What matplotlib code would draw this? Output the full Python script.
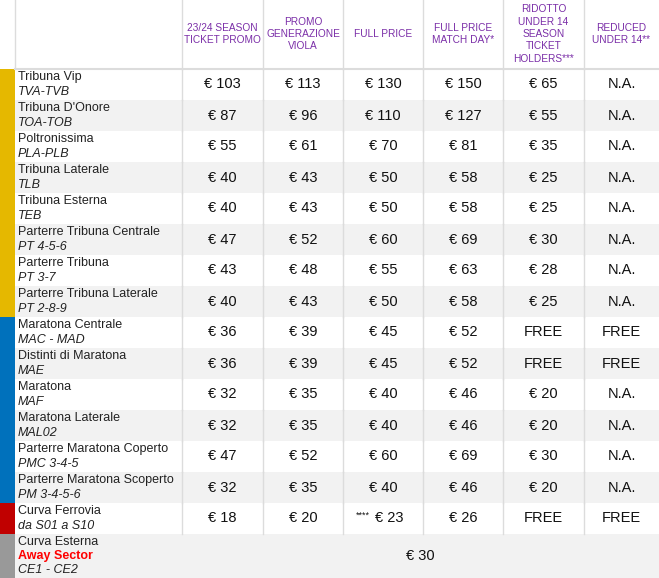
import matplotlib
matplotlib.use("Agg")
import matplotlib.pyplot as plt
from matplotlib.patches import Rectangle

plt.rcParams["font.family"] = "Liberation Sans"

headers = ["23/24 SEASON\nTICKET PROMO", "PROMO\nGENERAZIONE\nVIOLA", "FULL PRICE",
           "FULL PRICE\nMATCH DAY*", "RIDOTTO\nUNDER 14\nSEASON\nTICKET\nHOLDERS***", "REDUCED\nUNDER 14**"]
names = ["Tribuna Vip", "Tribuna D'Onore", "Poltronissima", "Tribuna Laterale", "Tribuna Esterna",
         "Parterre Tribuna Centrale", "Parterre Tribuna", "Parterre Tribuna Laterale",
         "Maratona Centrale", "Distinti di Maratona", "Maratona", "Maratona Laterale",
         "Parterre Maratona Coperto", "Parterre Maratona Scoperto", "Curva Ferrovia"]
codes = ["TVA-TVB", "TOA-TOB", "PLA-PLB", "TLB", "TEB", "PT 4-5-6", "PT 3-7", "PT 2-8-9",
         "MAC - MAD", "MAE", "MAF", "MAL02", "PMC 3-4-5", "PM 3-4-5-6", "da S01 a S10"]
values = [
    ["€ 103", "€ 113", "€ 130", "€ 150", "€ 65", "N.A."],
    ["€ 87", "€ 96", "€ 110", "€ 127", "€ 55", "N.A."],
    ["€ 55", "€ 61", "€ 70", "€ 81", "€ 35", "N.A."],
    ["€ 40", "€ 43", "€ 50", "€ 58", "€ 25", "N.A."],
    ["€ 40", "€ 43", "€ 50", "€ 58", "€ 25", "N.A."],
    ["€ 47", "€ 52", "€ 60", "€ 69", "€ 30", "N.A."],
    ["€ 43", "€ 48", "€ 55", "€ 63", "€ 28", "N.A."],
    ["€ 40", "€ 43", "€ 50", "€ 58", "€ 25", "N.A."],
    ["€ 36", "€ 39", "€ 45", "€ 52", "FREE", "FREE"],
    ["€ 36", "€ 39", "€ 45", "€ 52", "FREE", "FREE"],
    ["€ 32", "€ 35", "€ 40", "€ 46", "€ 20", "N.A."],
    ["€ 32", "€ 35", "€ 40", "€ 46", "€ 20", "N.A."],
    ["€ 47", "€ 52", "€ 60", "€ 69", "€ 30", "N.A."],
    ["€ 32", "€ 35", "€ 40", "€ 46", "€ 20", "N.A."],
    ["€ 18", "€ 20", "****€ 23", "€ 26", "FREE", "FREE"],
]
stripe = ["#e5b800"] * 8 + ["#0071bc"] * 6 + ["#c00000"]
last_name = ["Curva Esterna", "Away Sector", "CE1 - CE2"]
last_value = "€ 30"

W, H = 659, 578
fig = plt.figure(figsize=(W / 100, H / 100), dpi=100)
ax = fig.add_axes([0, 0, 1, 1])
ax.set_xlim(0, W)
ax.set_ylim(H, 0)
ax.axis("off")

cols = [182, 263, 343, 423, 503, 584, 659]
head_h = 69
rh = 31
grid = "#dcdcdc"
purple = "#7b2fa8"

for i, h in enumerate(headers):
    cx = (cols[i] + cols[i + 1]) / 2
    ax.text(cx, 34, h, ha="center", va="center", fontsize=7.3, color=purple, linespacing=1.3)
ax.plot([15, W], [head_h, head_h], color=grid, lw=1.5)
for x in [15] + cols[:-1]:
    ax.plot([x, x], [0, head_h], color=grid, lw=1)

for r in range(len(names)):
    y0 = head_h + r * rh
    bg = "#ffffff" if r % 2 == 0 else "#f2f2f2"
    ax.add_patch(Rectangle((15, y0), W - 15, rh, color=bg, lw=0))
    ax.add_patch(Rectangle((0, y0), 15, rh, color=stripe[r], lw=0))
    ax.text(18, y0 + 8, names[r], ha="left", va="center", fontsize=9, color="#222222")
    ax.text(18, y0 + 23, codes[r], ha="left", va="center", fontsize=9, color="#222222", style="italic")
    for c in range(6):
        cx = (cols[c] + cols[c + 1]) / 2
        v = values[r][c]
        if v.startswith("****"):
            ax.text(cx + 6, y0 + rh / 2, v[4:], ha="center", va="center", fontsize=10.5, color="#111111")
            ax.text(cx - 13, y0 + rh / 2 - 3, v[:4], ha="right", va="center", fontsize=6.5, color="#111111")
        else:
            ax.text(cx, y0 + rh / 2, v, ha="center", va="center", fontsize=10.5, color="#111111")
    for x in cols[:-1]:
        ax.plot([x, x], [y0, y0 + rh], color=grid, lw=1)

y0 = head_h + len(names) * rh
ax.add_patch(Rectangle((15, y0), W - 15, H - y0, color="#f2f2f2", lw=0))
ax.add_patch(Rectangle((0, y0), 15, H - y0, color="#999999", lw=0))
ax.text(18, y0 + 8, last_name[0], ha="left", va="center", fontsize=9, color="#222222")
ax.text(18, y0 + 22, last_name[1], ha="left", va="center", fontsize=9, color="#ff0000", fontweight="bold")
ax.text(18, y0 + 36, last_name[2], ha="left", va="center", fontsize=9, color="#222222", style="italic")
ax.text((cols[0] + W) / 2, y0 + 22, last_value, ha="center", va="center", fontsize=10.5, color="#111111")

fig.savefig("out.png", dpi=100)
